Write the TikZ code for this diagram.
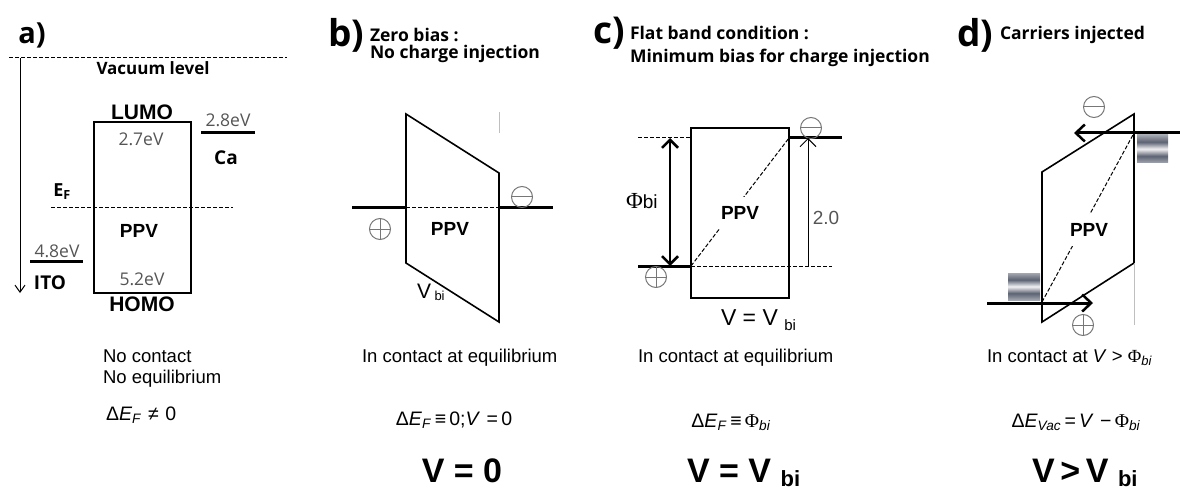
\documentclass[tikz,border=0pt]{standalone}
\usepackage{fontspec}
\setmainfont{Liberation Sans}
\newfontfamily\hd{Open Sans}
\newfontfamily\sr{Liberation Serif}
\usetikzlibrary{arrows.meta}
\definecolor{gtxt}{HTML}{555555}
\definecolor{gcirc}{HTML}{777777}
\definecolor{bdark}{HTML}{5C6272}
\definecolor{bmid}{HTML}{A3A7B0}
\definecolor{blight}{HTML}{F2F2F4}
\pgfdeclareverticalshading{barshade}{100bp}{color(0bp)=(bmid);color(25bp)=(bmid);color(37.5bp)=(bdark);color(50bp)=(blight);color(62.5bp)=(bdark);color(75bp)=(bmid);color(100bp)=(bmid)}
\newcommand\sz[1]{\fontsize{#1}{#1}\selectfont}
\begin{document}
\begin{tikzpicture}[x=1pt,y=-1pt,
  every node/.style={inner sep=0pt, outer sep=0pt},
  panel/.style={font=\hd\bfseries\sz{37}},
  head/.style={font=\hd\bfseries\sz{17.5}, anchor=base west},
  lvl/.style={font=\hd\bfseries\sz{17}},
  val/.style={font=\hd\sz{17.5}, text=gtxt},
  ppv/.style={font=\bfseries\sz{19}, fill=white, inner xsep=2pt, inner ysep=9pt},
  body/.style={font=\sz{18.5}, anchor=base west},
  eq/.style={font=\sz{19.5}, anchor=base},
  big/.style={font=\bfseries\sz{34}, anchor=base},
  box/.style={draw, line width=1.6pt},
  thick line/.style={line width=3pt},
  dash line/.style={line width=1pt, dash pattern=on 4pt off 2pt},
  faint/.style={draw=black!25, line width=1pt},
  oplus/.style={circle, draw=gcirc, line width=1pt, minimum size=21pt, path picture={\draw[gcirc, line width=1pt] (path picture bounding box.north) -- (path picture bounding box.south) (path picture bounding box.west) -- (path picture bounding box.east);}},
  ominus/.style={circle, draw=gcirc, line width=1pt, minimum size=21pt, path picture={\draw[gcirc, line width=1pt] (path picture bounding box.west) -- (path picture bounding box.east);}},
  bar/.style={shading=barshade},
  tip/.style={-{Straight Barb[length=9pt, width=17pt, line width=2.5pt]}},
]
\useasboundingbox (0,0) rectangle (1180,489);

% ================= panel a =================
\node[panel, font=\hd\bfseries\sz{29}, anchor=base] (la) at (32,44) {a)};
\coordinate (vacL) at (9,58); \coordinate (vacR) at (287,58);
\draw[dash line] (vacL) -- (vacR);
\coordinate (axT) at (20,58); \coordinate (axB) at (20,293);
\draw[line width=1pt, -{Straight Barb[length=7pt, width=10pt]}] (axT) -- (axB);
\node[lvl, anchor=base] (vac) at (153,75) {Vacuum level};
\node[box, minimum width=97pt, minimum height=171pt, anchor=north west] (rectA) at (94,122) {};
\node[lvl, font=\bfseries\sz{21}] (lumo) at (142,112) {LUMO};
\node[lvl, font=\bfseries\sz{21}] (homo) at (142,304) {HOMO};
\node[val] (v27) at (141,139) {2.7eV};
\node[val] (v52) at (142,279) {5.2eV};
\node[val] (v28) at (228,120) {2.8eV};
\node[val] (v48) at (57,251) {4.8eV};
\coordinate (caL) at (201,133); \coordinate (caR) at (255,133);
\draw[thick line] (caL) -- (caR);
\node[lvl, font=\hd\bfseries\sz{19}] (ca) at (226,158) {Ca};
\coordinate (itoL) at (30,261); \coordinate (itoR) at (83,261);
\draw[thick line] (itoL) -- (itoR);
\node[lvl, font=\hd\bfseries\sz{19}] (ito) at (50,283) {ITO};
\node[lvl, font=\hd\bfseries\sz{18}] (ef) at (62,192) {E\textsubscript{F}};
\coordinate (efL) at (51,208); \coordinate (efR) at (233,208);
\draw[dash line] (efL) -- (efR);
\node[ppv, fill=none, inner sep=1pt] (ppvA) at (139,231) {PPV};
\node[body] (nc1) at (103,362) {No contact};
\node[body] (nc2) at (103,383) {No equilibrium};
\node[eq, anchor=base west] (eqa) at (106,420) {Δ\textit{E}\textsubscript{\textit{F}}\,\,≠\,\,0};

% ================= panel b =================
\node[panel, anchor=base] (lb) at (346,47) {b)};
\node[head] (hb1) at (370,42) {Zero bias :};
\node[head] (hb2) at (370,59) {No charge injection};
\coordinate (b1) at (406,114); \coordinate (b2) at (499,173);
\coordinate (b3) at (499,322); \coordinate (b4) at (406,263);
\draw[line width=1.6pt, line join=miter] (b1) -- (b2) -- (b3) -- (b4) -- cycle;
\coordinate (bg1) at (499,112); \coordinate (bg2) at (499,133);
\draw[faint] (bg1) -- (bg2);
\coordinate (bfL) at (352,208); \coordinate (bfm1) at (406,208);
\coordinate (bfm2) at (499,208); \coordinate (bfR) at (553,208);
\draw[thick line] (bfL) -- (bfm1);
\draw[dash line] (bfm1) -- (bfm2);
\draw[thick line] (bfm2) -- (bfR);
\node[ominus] (bm) at (522,197) {};
\node[oplus] (bp) at (380,229) {};
\node[ppv, fill=none, inner sep=1pt] (ppvB) at (450,229) {PPV};
\node[anchor=base west, font=\sz{21}] (vbiB) at (417,298) {V\,\raisebox{-2pt}{\sz{13}bi}};
\node[body] (icb) at (362,362) {In contact at equilibrium};
\node[eq] (eqb) at (454,425) {Δ\textit{E}\textsubscript{\textit{F}}\,≡\,0;\textit{V}\,\,=\,0};
\node[big] (bigb) at (462,482) {V = 0};

% ================= panel c =================
\node[panel, anchor=base] (lc) at (609,44) {c)};
\node[head] (hc1) at (630,40) {Flat band condition :};
\node[head] (hc2) at (630,63) {Minimum bias for charge injection};
\node[box, minimum width=98pt, minimum height=170pt, anchor=north west] (rectC) at (691,128) {};
\coordinate (ctL) at (638,138); \coordinate (ctm) at (691,138);
\coordinate (ctm2) at (789,138); \coordinate (ctR) at (842,138);
\coordinate (cbL) at (638,266); \coordinate (cbm) at (691,266); \coordinate (cbR) at (832,266);
\draw[dash line] (ctL) -- (ctm);
\draw[thick line] (ctm2) -- (ctR);
\draw[thick line] (cbL) -- (cbm);
\draw[dash line] (cbm) -- (cbR);
\draw[dash line] (cbm) -- (ctm2);
\node[ominus] (cm) at (811,128) {};
\node[oplus] (cp) at (656,277) {};
\coordinate (phT) at (670,138); \coordinate (phB) at (670,266);
\draw[line width=2.5pt, {Straight Barb[length=8pt, width=16pt]}-{Straight Barb[length=8pt, width=16pt]}] (phT) -- (phB);
\coordinate (twB) at (808,266); \coordinate (twT) at (808,138);
\draw[line width=1pt, -{Straight Barb[length=8pt, width=16pt]}] (twB) -- (twT);
\node[anchor=base west] (phi) at (626,208) {{\sr\sz{23}Φ}{\sz{19}bi}};
\node[anchor=base, font=\sz{19}, text=gtxt] (c20) at (826,225) {2.0};
\node[ppv] (ppvC) at (740,213) {PPV};
\node[anchor=base west, font=\sz{23}] (vvc) at (721,325) {V = V \raisebox{-5pt}{\sz{15}bi}};
\node[body] (icc) at (638,362) {In contact at equilibrium};
\node[eq] (eqc) at (731,427) {Δ\textit{E}\textsubscript{\textit{F}}\,≡\,{\sr Φ}\textsubscript{\textit{bi}}};
\node[big, anchor=base west] (bigc) at (687,482) {V = V \raisebox{-4pt}{\sz{22}bi}};

% ================= panel d =================
\node[panel, anchor=base] (ld) at (975,47) {d)};
\node[head] (hd1) at (1000,40) {Carriers injected};
\coordinate (d1) at (1042,172); \coordinate (d2) at (1134,114);
\coordinate (d3) at (1134,263); \coordinate (d4) at (1042,322);
\draw[line width=1.6pt, line join=miter] (d1) -- (d2) -- (d3) -- (d4) -- cycle;
\coordinate (dg1) at (1134,263); \coordinate (dg2) at (1134,325);
\draw[faint] (dg1) -- (dg2);
\node[bar, minimum width=31pt, minimum height=28pt, anchor=north west] (barR) at (1137,135) {};
\node[bar, minimum width=32pt, minimum height=27pt, anchor=north west] (barL) at (1008,273) {};
\coordinate (ddB) at (1042,302); \coordinate (ddT) at (1134,133);
\draw[dash line] (ddB) -- (ddT);
\coordinate (taR) at (1180,133); \coordinate (taL) at (1074,133);
\draw[thick line, tip] (taR) -- (taL);
\coordinate (baL) at (987,303); \coordinate (baR) at (1093,303);
\draw[thick line, tip] (baL) -- (baR);
\node[ominus] (dm) at (1094,107) {};
\node[oplus] (dp) at (1083,325) {};
\node[ppv] (ppvD) at (1089,230) {PPV};
\node[body] (icd) at (987,362) {In contact at \textit{V} > {\sr Φ}\textsubscript{\textit{bi}}};
\node[eq] (eqd) at (1076,427) {Δ\textit{E}\textsubscript{\textit{Vac}}\,=\,\textit{V}\,\,−\,{\sr Φ}\textsubscript{\textit{bi}}};
\node[big, anchor=base west] (bigd) at (1032,482) {V\,>\,V \raisebox{-4pt}{\sz{22}bi}};
\end{tikzpicture}
\end{document}
